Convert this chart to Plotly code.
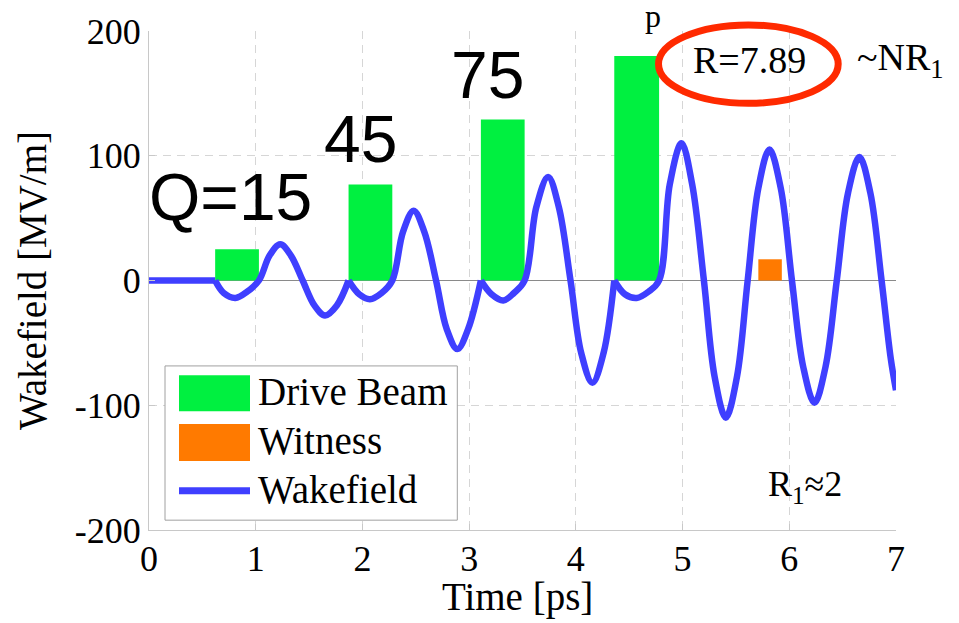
import plotly.graph_objects as go

# ---------------- data ----------------
time_ps = [0.00, 0.62,
           0.70, 0.81, 0.92, 1.03, 1.13, 1.23, 1.33, 1.44, 1.55, 1.65, 1.76, 1.87,
           1.97, 2.07, 2.18, 2.28, 2.38, 2.48, 2.58, 2.69, 2.79, 2.89, 2.99, 3.11,
           3.21, 3.32, 3.42, 3.52, 3.63, 3.74, 3.84, 3.95, 4.05, 4.155, 4.26, 4.36,
           4.46, 4.57, 4.68, 4.78, 4.88, 4.99, 5.09, 5.20, 5.30, 5.405, 5.51, 5.61,
           5.71, 5.814, 5.92, 6.025, 6.13, 6.236, 6.34, 6.445, 6.55, 6.657, 6.76,
           6.865, 6.95, 7.00]
wakefield = [0, 0,
             -10, -14, -9, 0, 20, 29, 20, 0, -20, -28, -20, 0,
             -11, -15, -10, 0, 39, 56, 39, 0, -39, -55, -39, 0,
             -11, -16, -10, 0, 59, 83, 59, 0, -58, -82, -58, 0,
             -11, -14, -9, 0, 77, 110, 77, 0, -77, -110, -77, 0,
             74, 105, 74, 0, -69, -98, -69, 0, 70, 99, 70,
             0, -62, -88]

drive_start = [0.62, 1.87, 3.11, 4.36]
drive_end = [1.03, 2.28, 3.52, 4.78]
drive_height = [25, 77, 129, 180]

witness_start = [5.71]
witness_end = [5.93]
witness_height = [17]

charge_labels = ["Q=15", "45", "75"]
x_ticks = [0, 1, 2, 3, 4, 5, 6, 7]
y_ticks = [-200, -100, 0, 100, 200]
y_tick_text = ["-200", "-100", "0", "100", "200"]

# ---------------- styling ----------------
GREEN = "#00F040"
ORANGE = "#FF7A00"
BLUE = "#3F3FFF"
RED = "#FF2A00"
SERIF = "Liberation Serif"
SANS = "Liberation Sans"

W, H = 959, 623
L, R, T, B = 149, 63, 23, 93
PW, PH = W - L - R, H - T - B


def px(x):  # pixel -> paper x
    return (x - L) / PW


def py(y, size=0):  # pixel -> paper y (text centres nudged for font box)
    return (H - B - (y - 0.12 * size)) / PH


fig = go.Figure()

# drive bunches
fig.add_trace(go.Bar(
    x=[(s + e) / 2 for s, e in zip(drive_start, drive_end)],
    y=drive_height,
    width=[e - s for s, e in zip(drive_start, drive_end)],
    marker=dict(color=GREEN, line=dict(width=0)),
    name="Drive Beam", showlegend=False,
))
# witness bunch
fig.add_trace(go.Bar(
    x=[(s + e) / 2 for s, e in zip(witness_start, witness_end)],
    y=witness_height,
    width=[e - s for s, e in zip(witness_start, witness_end)],
    marker=dict(color=ORANGE, line=dict(width=0)),
    name="Witness", showlegend=False,
))

# wakefield: split at bunch heads so the cusps stay sharp
breaks = [0] + [time_ps.index(s) for s in drive_start] + [len(time_ps) - 1]
for a, b in zip(breaks[:-1], breaks[1:]):
    fig.add_trace(go.Scatter(
        x=time_ps[a:b + 1], y=wakefield[a:b + 1],
        mode="lines", line=dict(color=BLUE, width=6.5, shape="spline"),
        name="Wakefield", legendgroup="wake", showlegend=False,
        hoverinfo="x+y",
    ))

axis_common = dict(
    showline=True, linecolor="#c8c8c8", linewidth=1, mirror=False,
    showgrid=True, gridcolor="#d6d6d6", gridwidth=1, griddash="8px,6px",
    ticks="inside", ticklen=6, tickcolor="#c8c8c8",
    tickfont=dict(family=SERIF, size=36, color="black"),
)
fig.update_xaxes(range=[0, 7], tickvals=x_ticks, zeroline=False,
                 ticklabelstandoff=-3, **axis_common)
fig.update_yaxes(range=[-200, 200], tickvals=y_ticks, ticktext=y_tick_text,
                 zeroline=True, zerolinecolor="#8a8a8a", zerolinewidth=1,
                 **axis_common)

annotations = []
# axis titles
annotations.append(dict(text="Time [ps]", x=px(517.5), y=py(603, 39), xref="paper", yref="paper",
                        xanchor="center", yanchor="middle", showarrow=False,
                        font=dict(family=SERIF, size=39, color="black")))
annotations.append(dict(text="Wakefield [MV/m]", x=px(33), y=py(277), xref="paper", yref="paper",
                        xanchor="center", yanchor="middle", showarrow=False, textangle=-90,
                        font=dict(family=SERIF, size=39, color="black")))
# charge labels
for txt, (cx, cy, anc) in zip(charge_labels, [(146.7, 200, "left"), (360, 141, "center"), (487.5, 76, "center")]):
    annotations.append(dict(text=txt, x=px(cx), y=py(cy, 66), xref="paper", yref="paper",
                            xanchor=anc, yanchor="middle", showarrow=False,
                            font=dict(family=SANS, size=66, color="black")))
# other text
annotations.append(dict(text="R=7.89", x=px(749), y=py(57, 38), xref="paper", yref="paper",
                        xanchor="center", yanchor="middle", showarrow=False,
                        font=dict(family=SERIF, size=38, color="black")))
annotations.append(dict(text="~NR<sub>1</sub>", x=px(855), y=py(57.5, 38), xref="paper", yref="paper",
                        xanchor="left", yanchor="middle", showarrow=False,
                        font=dict(family=SERIF, size=38, color="black")))
annotations.append(dict(text="R<sub>1</sub>≈2", x=px(766), y=py(490, 36), xref="paper", yref="paper",
                        xanchor="left", yanchor="middle", showarrow=False,
                        font=dict(family=SERIF, size=36, color="black")))
annotations.append(dict(text="p", x=px(652.5), y=py(12, 32), xref="paper", yref="paper",
                        xanchor="center", yanchor="middle", showarrow=False,
                        font=dict(family=SERIF, size=32, color="black")))
# legend texts
for txt, cy in zip(["Drive Beam", "Witness", "Wakefield"], [393.7, 443.7, 493.7]):
    annotations.append(dict(text=txt, x=px(256), y=py(cy, 39), xref="paper", yref="paper",
                            xanchor="left", yanchor="middle", showarrow=False,
                            font=dict(family=SERIF, size=39, color="black")))

shapes = [
    # red ellipse
    dict(type="circle", xref="paper", yref="paper",
         x0=px(658.5), x1=px(838.2), y0=py(96.5), y1=py(16.8),
         line=dict(color=RED, width=7), layer="above"),
    # legend box
    dict(type="rect", xref="paper", yref="paper",
         x0=px(165), x1=px(457.3), y0=py(520), y1=py(363.3),
         line=dict(color="#a0a0a0", width=1), fillcolor="white", layer="above"),
    dict(type="rect", xref="paper", yref="paper",
         x0=px(179), x1=px(250), y0=py(409.3), y1=py(372.7),
         line=dict(width=0), fillcolor=GREEN, layer="above"),
    dict(type="rect", xref="paper", yref="paper",
         x0=px(179), x1=px(250), y0=py(460), y1=py(422.3),
         line=dict(width=0), fillcolor=ORANGE, layer="above"),
    dict(type="line", xref="paper", yref="paper",
         x0=px(179), x1=px(250), y0=py(490), y1=py(490),
         line=dict(color=BLUE, width=7), layer="above"),
]

fig.update_layout(
    width=W, height=H,
    margin=dict(l=L, r=R, t=T, b=B, pad=0),
    paper_bgcolor="white", plot_bgcolor="white",
    showlegend=False, barmode="overlay",
    annotations=annotations, shapes=shapes,
    font=dict(family=SERIF, color="black"),
)

fig.write_html("out.html", config={"displayModeBar": False})

# remove the browser's default page margin so the figure sits at (0, 0)
with open("out.html", encoding="utf-8") as f:
    html = f.read()
html = html.replace("<head>", "<head><style>html,body{margin:0;padding:0;overflow:hidden;}</style>", 1)
with open("out.html", "w", encoding="utf-8") as f:
    f.write(html)
